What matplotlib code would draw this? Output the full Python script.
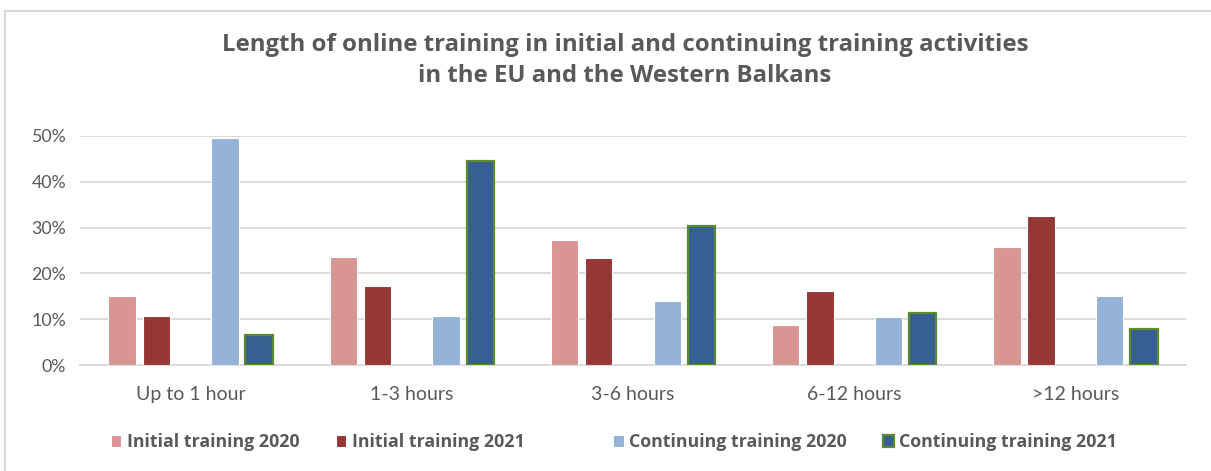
import matplotlib
matplotlib.use("Agg")
import matplotlib.pyplot as plt
import numpy as np
from matplotlib.patches import Patch
from matplotlib.lines import Line2D
from matplotlib.ticker import PercentFormatter

plt.rcParams['font.family'] = ['Lato', 'DejaVu Sans']

categories = ["Up to 1 hour", "1-3 hours", "3-6 hours", "6-12 hours", ">12 hours"]
series_names = ["Initial training 2020", "Initial training 2021",
                "Continuing training 2020", "Continuing training 2021"]
initial_2020 = [15.1, 23.5, 27.2, 8.8, 25.7]
initial_2021 = [10.6, 17.3, 23.4, 16.1, 32.6]
continuing_2020 = [49.5, 10.8, 14.0, 10.5, 15.1]
continuing_2021 = [6.6, 44.5, 30.3, 11.4, 7.8]

values = [initial_2020, initial_2021, continuing_2020, continuing_2021]
colors = ['#D99594', '#953735', '#95B3D7', '#376092']
edges = ['white', 'white', 'white', '#5B8A33']
lws = [0.8, 0.8, 0.8, 1.6]
slots = [-2, -1, 1, 2]  # middle slot is an empty series

grey = '#595959'
bold_font = ['Open Sans', 'DejaVu Sans']
fig = plt.figure(figsize=(12.11, 4.71), dpi=100)
ax = fig.add_axes([80 / 1211, 106 / 471, 1106 / 1211, 229 / 471])

x = np.arange(len(categories))
step = 0.155
for vals, c, ec, lw, s, name in zip(values, colors, edges, lws, slots, series_names):
    ax.bar(x + s * step, vals, width=0.124, color=c, edgecolor=ec, linewidth=lw,
           label=name, zorder=3)

ax.set_xlim(-0.5, len(categories) - 0.5)
ax.set_ylim(0, 50)
ax.set_yticks(np.arange(0, 51, 10))
ax.yaxis.set_major_formatter(PercentFormatter(decimals=0))
ax.set_xticks(x)
ax.set_xticklabels(categories)
ax.grid(axis='y', color='#D9D9D9', linewidth=1.3, zorder=0)
for sp in ['top', 'right', 'left']:
    ax.spines[sp].set_visible(False)
ax.spines['bottom'].set_color('#D9D9D9')
ax.spines['bottom'].set_linewidth(1.3)
ax.tick_params(axis='both', length=0, labelsize=14, colors=grey, pad=15)
ax.tick_params(axis='y', labelsize=12.8, pad=10)

fig.text(0.516, 0.872, "Length of online training in initial and continuing training activities\nin the EU and the Western Balkans",
         ha='center', va='center', fontsize=17.3, fontweight='bold', color=grey,
         linespacing=1.42, family=bold_font)

handles, labels = ax.get_legend_handles_labels()
blank = Patch(facecolor='none', edgecolor='none')
handles = handles[:2] + [blank] + handles[2:]
labels = labels[:2] + [''] + labels[2:]
leg = fig.legend(handles, labels, loc='center', bbox_to_anchor=(0.507, 0.061), ncol=5,
                 frameon=False, handlelength=0.6, handleheight=0.6, handletextpad=0.3,
                 columnspacing=2.05, prop={'weight': 'bold', 'size': 12.8, 'family': bold_font})
for t in leg.get_texts():
    t.set_color(grey)

# outer chart border (top and left)
fig.add_artist(Line2D([5 / 1211, 1.0], [1 - 11 / 471] * 2, color='#D9D9D9', lw=1.5, transform=fig.transFigure))
fig.add_artist(Line2D([5 / 1211] * 2, [0, 1 - 11 / 471], color='#D9D9D9', lw=1.5, transform=fig.transFigure))

fig.savefig("out.png", dpi=100, facecolor='white')
